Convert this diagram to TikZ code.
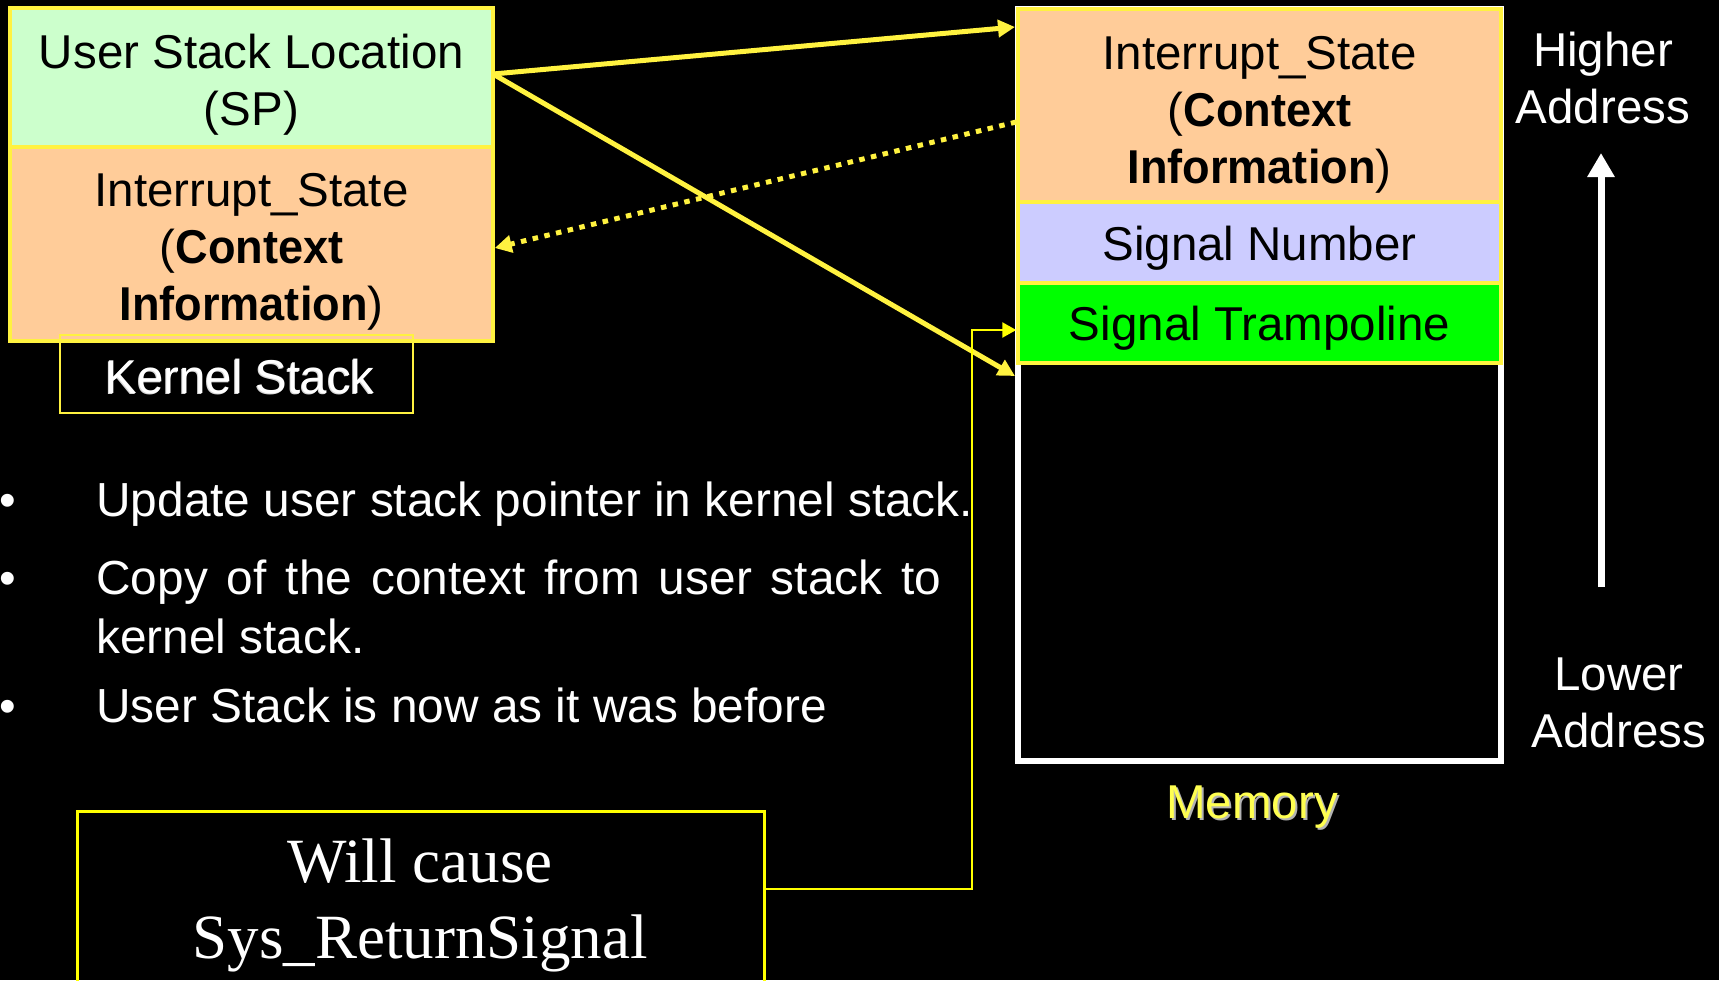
\documentclass[tikz,border=0pt]{standalone}
\usepackage{fontspec}
\setmainfont{Liberation Sans}
\newfontfamily\serifface{Liberation Serif}
\usetikzlibrary{arrows.meta}

\definecolor{ylw}{RGB}{255,242,64}
\definecolor{pureyellow}{RGB}{255,255,0}
\definecolor{memyellow}{RGB}{255,255,80}
\definecolor{mint}{RGB}{204,255,204}
\definecolor{peach}{RGB}{255,204,153}
\definecolor{lavender}{RGB}{204,204,255}
\definecolor{lime}{RGB}{0,255,0}

% bold words set a little narrower
\newcommand{\narrowbf}[1]{\scalebox{0.95}[1]{\textbf{#1}}}

\begin{document}
\begin{tikzpicture}[x=0.5pt, y=-0.5pt,
  % multi-line nodes: the base anchor sits on the last line
  txt/.style={font=\fontsize{23.75}{28.5}\selectfont, align=center, inner sep=0pt, anchor=base},
  cell/.style={draw=ylw, line width=1.75pt, inner sep=0pt, minimum width=241.5pt},
  link/.style={draw=ylw, line width=2.5pt, -{Triangle[length=8.5pt,width=8.5pt]}},
  copylink/.style={link, dash pattern=on 2.75pt off 3.25pt},
  callline/.style={draw=pureyellow, line width=1.25pt, -{Triangle[length=7pt,width=7.5pt]}},
  addrarrow/.style={draw=white, line width=3.5pt, -{Triangle[length=12pt,width=13pt]}},
  bullettext/.style={font=\fontsize{23.9}{29.5}\selectfont, white, inner sep=0pt, anchor=base west}
]
% page and background
\fill[black] (0,0) rectangle (1719,980);
\useasboundingbox (0,0) rectangle (1719,980);

% ---- kernel stack ----
\node[cell, fill=peach, minimum height=97pt] (kctx) at (251.5,244) {};
\node[cell, fill=mint, minimum height=69.5pt] (usl) at (251.5,77.5) {};
\node[txt] (uslText) at (251.5,125) {User Stack Location\\(SP)};
\node[txt] (kctxText) at (251.5,320) {Interrupt\_State\\(\narrowbf{Context}\\\narrowbf{Information})};
\node[draw=ylw, line width=1pt, minimum width=176.5pt, minimum height=39pt] (kstack) at (236.5,374) {};
\node[txt, gray!30] (kstackShadow) at (239,394) {Kernel Stack};
\node[txt, white] (kstackText) at (240,393) {Kernel Stack};

% ---- memory (user stack) ----
\node[draw=white, line width=3pt, minimum width=241.5pt, minimum height=376pt] (mem) at (1259.5,385) {};
\node[cell, fill=peach, minimum height=96.5pt] (uctx) at (1259.5,105.5) {};
\node[cell, fill=lavender, minimum height=40.5pt] (signum) at (1259.5,242.5) {};
\node[cell, fill=lime, minimum height=40pt] (tramp) at (1259.5,323) {};
\node[txt] (uctxText) at (1259.5,183) {Interrupt\_State\\(\narrowbf{Context}\\\narrowbf{Information})};
\node[txt] (signumText) at (1259.5,260) {Signal Number};
\node[txt] (trampText) at (1259.5,340) {Signal Trampoline};
\node[txt, gray!60] (memShadow) at (1254,820) {Memory};
\node[txt, memyellow] (memText) at (1252,818) {Memory};

% ---- address direction ----
\node[txt, white] (higher) at (1603,123) {Higher\\Address};
\node[txt, white] (lower) at (1619,747) {Lower\\Address};
\coordinate (lowEnd) at (1601,587);
\coordinate (highEnd) at (1601,153);
\draw[addrarrow] (lowEnd) -- (highEnd);

% ---- connectors between the stacks ----
\coordinate (src) at (493,74);
\draw[link] (src) -- (mem.west |- 0,27);
\draw[link] (src) -- (mem.west |- 0,376);
\draw[copylink] (uctx.west |- 0,122) -- (kctx.east |- 0,248);

% ---- notes ----
\node[txt, white] (dot1) at (8,516) {•};
\node[txt, white] (dot2) at (8,594) {•};
\node[txt, white] (dot3) at (8,722) {•};
\node[bullettext] (note1) at (96,516) {Update user stack pointer in kernel stack.};
\node[bullettext, text width=422.5pt, align=justify] (note2) at (96,594)
  {Copy of the context from user stack to\linebreak kernel stack.};
\node[bullettext] (note3) at (96,722) {User Stack is now as it was before};

% ---- return call ----
\node[draw=pureyellow, line width=1.25pt, minimum width=343.5pt, minimum height=110pt,
      anchor=north west, inner sep=0pt] (call) at (76,810) {};
\node[font=\serifface\fontsize{31.5}{38}\selectfont, white, align=center, inner sep=0pt, anchor=base]
  (callText) at (420,958) {Will cause\\Sys\_ReturnSignal};
\coordinate (bend) at (972,330);
\draw[callline] (call.east |- 0,889) -| (bend) -- (tramp.west |- bend);
\end{tikzpicture}
\end{document}
